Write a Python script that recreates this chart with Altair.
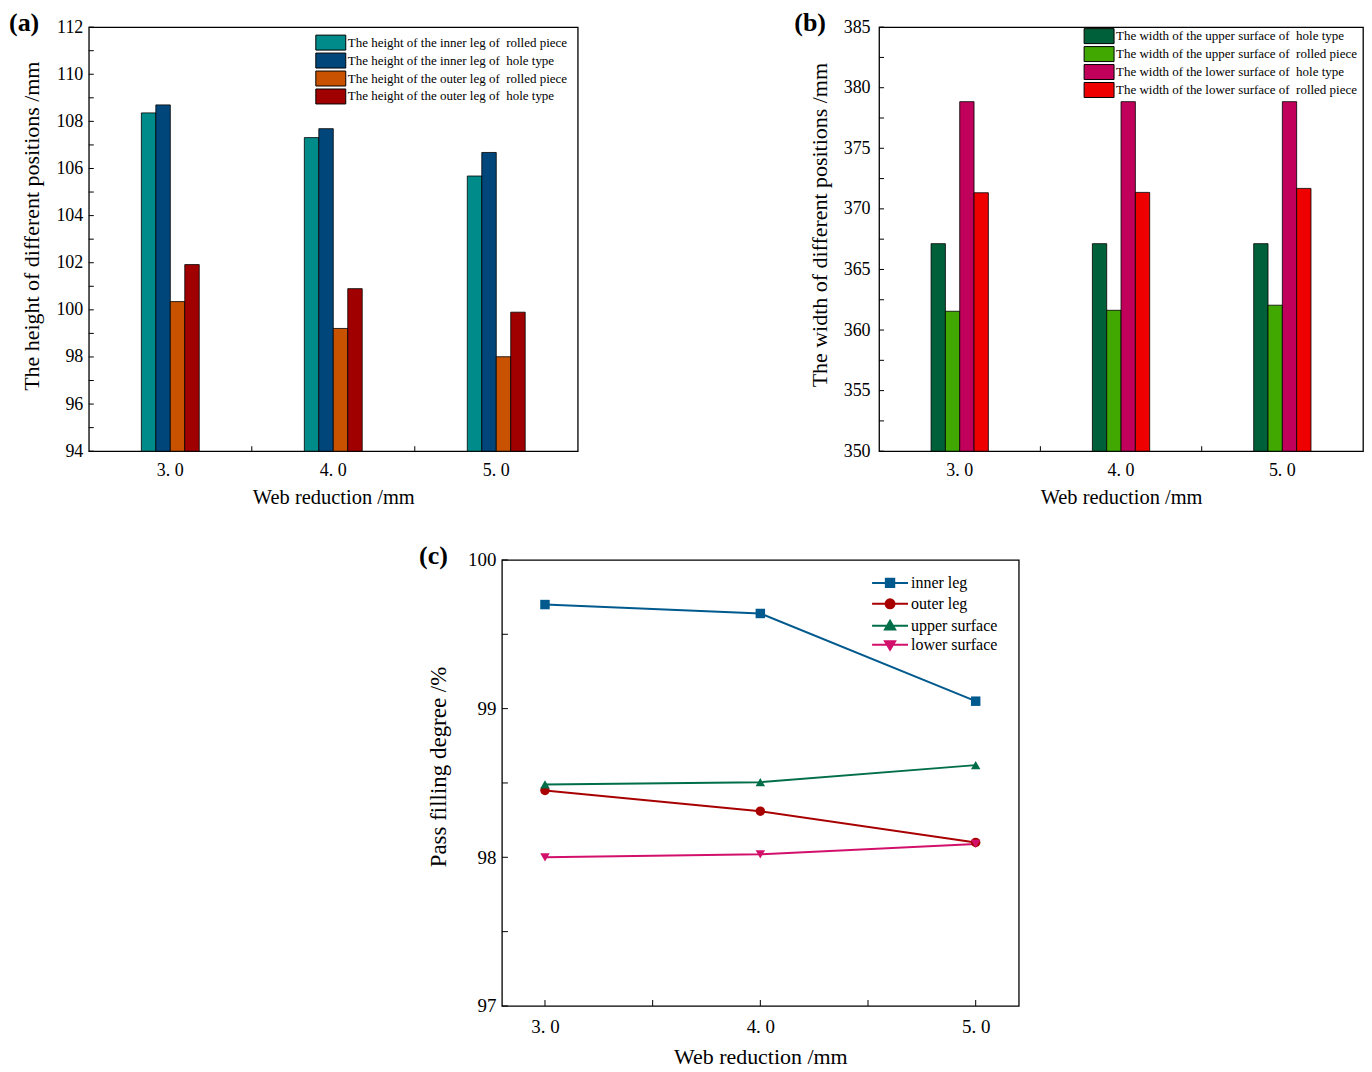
import altair as alt
import pandas as pd

FONT = "Liberation Serif"
NB = "\u00a0"
X_CATS = ["3.0", "4.0", "5.0"]
X_BOUNDS = [1, 2]          # boundaries between the three groups (group index units)

# ---------------- panel (a) ----------------
A_SERIES = [
    "The height of the inner leg of" + NB + NB + "rolled piece",
    "The height of the inner leg of" + NB + NB + "hole type",
    "The height of the outer leg of" + NB + NB + "rolled piece",
    "The height of the outer leg of" + NB + NB + "hole type",
]
A_COLORS = ["#008B8B", "#00467A", "#C85200", "#A00000"]
A_INNER_ROLLED = [108.36, 107.31, 105.68]
A_INNER_HOLE = [108.70, 107.69, 106.68]
A_OUTER_ROLLED = [100.35, 99.21, 98.01]
A_OUTER_HOLE = [101.92, 100.90, 99.90]
A_Y_DOMAIN = [94, 112]
A_Y_LABELS = [94, 96, 98, 100, 102, 104, 106, 108, 110, 112]
A_Y_TICKS = [94, 95, 96, 97, 98, 99, 100, 101, 102, 103, 104, 105, 106, 107, 108, 109, 110, 111, 112]
A_Y_TITLE = "The height of different positions /mm"

# ---------------- panel (b) ----------------
B_SERIES = [
    "The width of the upper surface of" + NB + NB + "hole type",
    "The width of the upper surface of" + NB + NB + "rolled piece",
    "The width of the lower surface of" + NB + NB + "hole type",
    "The width of the lower surface of" + NB + NB + "rolled piece",
]
B_COLORS = ["#00603A", "#40A800", "#C0005A", "#EE0000"]
B_UPPER_HOLE = [367.13, 367.13, 367.13]
B_UPPER_ROLLED = [361.55, 361.63, 362.05]
B_LOWER_HOLE = [378.85, 378.85, 378.85]
B_LOWER_ROLLED = [371.33, 371.36, 371.69]
B_Y_DOMAIN = [350, 385]
B_Y_LABELS = [350, 355, 360, 365, 370, 375, 380, 385]
B_Y_TICKS = [350, 352.5, 355, 357.5, 360, 362.5, 365, 367.5, 370, 372.5, 375, 377.5, 380, 382.5, 385]
B_Y_TITLE = "The width of different positions /mm"

# ---------------- panel (c) ----------------
C_X = [3.0, 4.0, 5.0]
C_SERIES = ["inner leg", "outer leg", "upper surface", "lower surface"]
C_COLORS = ["#005A8E", "#A80000", "#006E48", "#D2106C"]
C_INNER = [99.70, 99.64, 99.05]
C_OUTER = [98.45, 98.31, 98.10]
C_UPPER = [98.49, 98.505, 98.62]
C_LOWER = [98.00, 98.02, 98.09]
C_X_DOMAIN = [2.8, 5.2]
C_X_LABELS = [3, 4, 5]
C_X_TICKS = [3.0, 3.5, 4.0, 4.5, 5.0]
C_Y_DOMAIN = [97, 100]
C_Y_LABELS = [97, 98, 99, 100]
C_Y_TICKS = [97.0, 97.5, 98.0, 98.5, 99.0, 99.5, 100.0]
C_SHAPES = ["square", "circle", "triangle-up", "triangle-down"]
C_LEGEND_SHAPES = [
    "M-3,0L3,0M-0.7,-0.7L0.7,-0.7L0.7,0.7L-0.7,0.7Z",
    "M-3,0L3,0M0.75,0A0.75,0.75,0,1,1,-0.75,0A0.75,0.75,0,1,1,0.75,0Z",
    "M-3,0L3,0M0,-0.85L0.85,0.6L-0.85,0.6Z",
    "M-3,0L3,0M0,0.85L0.85,-0.6L-0.85,-0.6Z",
]

LABEL_EXPR = "replace(datum.label, '.', '. ')"
RECT_PATH = "M-2,-1L2,-1L2,1L-2,1Z"
GROUP_FILL = 58.0 / 163.3   # share of each group occupied by its four bars


def tag_layer(tag, dx):
    return alt.Chart(pd.DataFrame({"tag": [tag]})).mark_text(
        font=FONT, fontSize=26, fontWeight="bold", align="left",
        baseline="alphabetic", color="black"
    ).encode(text="tag:N", x=alt.value(dx), y=alt.value(4))


def bar_panel(tag, tag_dx, field, series, colors, values, y_domain, y_labels, y_ticks,
              y_title, width, height, legend_x, legend_y, label_pad, row_pad, title_y):
    rows = []
    for s, vals in zip(series, values):
        for c, v in zip(X_CATS, vals):
            rows.append({"cat": c, field: s, "value": v})
    df = pd.DataFrame(rows)
    p_in = 1 - GROUP_FILL

    yscale = alt.Scale(domain=y_domain, nice=False, zero=False)
    yt = alt.Chart(pd.DataFrame({"value": y_ticks})).mark_rule(color="black", strokeWidth=1).encode(
        y=alt.Y("value:Q", scale=yscale,
                axis=alt.Axis(title=y_title, values=y_labels, format="d", ticks=False,
                              domain=False, grid=False, labelPadding=label_pad,
                              titlePadding=12, labelFontSize=18, titleFontSize=22,
                              titleY=title_y,
                              labelFont=FONT, titleFont=FONT, labelColor="black",
                              titleColor="black", titleFontWeight="normal")),
        x=alt.value(0), x2=alt.value(5),
    )
    bars = alt.Chart(df).mark_bar(stroke="black", strokeWidth=0.8).encode(
        x=alt.X("cat:N", sort=X_CATS,
                scale=alt.Scale(domain=X_CATS, paddingInner=p_in, paddingOuter=p_in / 2),
                axis=alt.Axis(title="Web reduction /mm", labelExpr=LABEL_EXPR, labelAngle=0,
                              ticks=False, domain=False, grid=False, labelPadding=10,
                              titlePadding=8, labelFontSize=18, titleFontSize=20.5,
                              labelFont=FONT, titleFont=FONT, labelColor="black",
                              titleColor="black", titleFontWeight="normal")),
        xOffset=alt.XOffset(f"{field}:N", sort=series,
                            scale=alt.Scale(domain=series, paddingInner=0, paddingOuter=0)),
        y=alt.Y("value:Q", scale=yscale),
        y2=alt.datum(y_domain[0]),
        color=alt.Color(f"{field}:N", sort=series,
                        scale=alt.Scale(domain=series, range=colors),
                        legend=alt.Legend(orient="none", legendX=legend_x, legendY=legend_y,
                                          title=None, symbolType=RECT_PATH, symbolSize=225,
                                          symbolStrokeColor="black", symbolStrokeWidth=1,
                                          symbolOpacity=1, labelFont=FONT, labelFontSize=13,
                                          labelColor="black", labelLimit=400, labelOffset=9,
                                          rowPadding=row_pad, padding=0)),
    )
    xt = alt.Chart(pd.DataFrame({"b": X_BOUNDS})).mark_rule(color="black", strokeWidth=1).encode(
        x=alt.X("b:Q", scale=alt.Scale(domain=[0, len(X_CATS)], nice=False, zero=False), axis=None),
        y=alt.value(height), y2=alt.value(height - 5),
    )
    return alt.layer(yt, bars, xt, tag_layer(tag, tag_dx)).resolve_scale(
        x="independent"
    ).properties(width=width, height=height)


panel_a = bar_panel("(a)", -80, "sa", A_SERIES, A_COLORS,
                    [A_INNER_ROLLED, A_INNER_HOLE, A_OUTER_ROLLED, A_OUTER_HOLE],
                    A_Y_DOMAIN, A_Y_LABELS, A_Y_TICKS, A_Y_TITLE, 490, 425,
                    234.5, 7.5, 6, -2.8, 199)
panel_b = bar_panel("(b)", -85, "sb", B_SERIES, B_COLORS,
                    [B_UPPER_HOLE, B_UPPER_ROLLED, B_LOWER_HOLE, B_LOWER_ROLLED],
                    B_Y_DOMAIN, B_Y_LABELS, B_Y_TICKS, B_Y_TITLE, 485, 425,
                    212.5, 1, 9, -2.5, 198)

# ---- panel (c) ----
rows = []
for s, vals in zip(C_SERIES, [C_INNER, C_OUTER, C_UPPER, C_LOWER]):
    for x, v in zip(C_X, vals):
        rows.append({"x": x, "sc": s, "value": v})
dfc = pd.DataFrame(rows)
CW, CH = 518, 447
cx = alt.Scale(domain=C_X_DOMAIN, nice=False, zero=False)
cy = alt.Scale(domain=C_Y_DOMAIN, nice=False, zero=False)
ccolor = alt.Scale(domain=C_SERIES, range=C_COLORS)


def c_legend():
    return alt.Legend(orient="none", legendX=381, legendY=15, title=None,
                      symbolSize=144, symbolStrokeWidth=2, symbolOpacity=1,
                      labelFont=FONT, labelFontSize=16, labelColor="black",
                      labelOffset=13, rowPadding=3, padding=0, labelLimit=300)


c_leg = alt.Chart(dfc).mark_point(filled=True, size=0).encode(
    x=alt.X("x:Q", scale=cx),
    y=alt.Y("value:Q", scale=cy),
    color=alt.Color("sc:N", sort=C_SERIES, scale=ccolor, legend=c_legend()),
    stroke=alt.Stroke("sc:N", sort=C_SERIES, scale=ccolor, legend=c_legend()),
    shape=alt.Shape("sc:N", sort=C_SERIES,
                    scale=alt.Scale(domain=C_SERIES, range=C_LEGEND_SHAPES),
                    legend=c_legend()),
)
c_lines = alt.Chart(dfc).mark_line(strokeWidth=2).encode(
    x=alt.X("x:Q", scale=cx,
            axis=alt.Axis(title="Web reduction /mm", values=C_X_LABELS,
                          labelExpr="replace(format(datum.value, '.1f'), '.', '. ')",
                          ticks=False, domain=False, grid=False, labelPadding=12, titlePadding=10,
                          labelFontSize=19, titleFontSize=22, labelFont=FONT, titleFont=FONT,
                          labelColor="black", titleColor="black", titleFontWeight="normal")),
    y=alt.Y("value:Q", scale=cy,
            axis=alt.Axis(title="Pass filling degree /%", values=C_Y_LABELS, format="d",
                          ticks=False, domain=False, grid=False, labelPadding=6, titlePadding=17,
                          titleY=207,
                          labelFontSize=19, titleFontSize=23, labelFont=FONT, titleFont=FONT,
                          labelColor="black", titleColor="black", titleFontWeight="normal")),
    color=alt.Color("sc:N", sort=C_SERIES, scale=ccolor, legend=c_legend()),
)
c_point_layers = [
    alt.Chart(dfc).transform_filter(alt.datum.sc == s).mark_point(
        filled=True, size=90, opacity=1, shape=shp
    ).encode(
        x=alt.X("x:Q", scale=cx),
        y=alt.Y("value:Q", scale=cy),
        color=alt.Color("sc:N", sort=C_SERIES, scale=ccolor, legend=c_legend()),
    )
    for s, shp in zip(C_SERIES, C_SHAPES)
]
c_yt = alt.Chart(pd.DataFrame({"value": C_Y_TICKS})).mark_rule(color="black", strokeWidth=1).encode(
    y=alt.Y("value:Q", scale=cy), x=alt.value(0), x2=alt.value(6),
)
c_xt = alt.Chart(pd.DataFrame({"x": C_X_TICKS})).mark_rule(color="black", strokeWidth=1).encode(
    x=alt.X("x:Q", scale=cx), y=alt.value(CH), y2=alt.value(CH - 6),
)
panel_c = alt.layer(c_leg, c_lines, *c_point_layers, c_yt, c_xt, tag_layer("(c)", -83)).properties(
    width=CW, height=CH,
)

spacer = alt.Chart(pd.DataFrame({"v": [0]})).mark_point(opacity=0).properties(
    width=329, height=10, view=alt.ViewBackground(stroke="transparent")
)

RES = dict(color="independent", stroke="independent", shape="independent", xOffset="independent")
LRES = dict(color="independent", stroke="independent", shape="independent")
top = alt.hconcat(panel_a, panel_b, spacing=215).resolve_scale(**RES).resolve_legend(**LRES)
bottom = alt.hconcat(spacer, panel_c, spacing=0).resolve_scale(**RES).resolve_legend(**LRES)
chart = alt.vconcat(top, bottom, spacing=33).resolve_scale(**RES).resolve_legend(**LRES).properties(
    padding=0, background="white"
).configure_view(stroke="black", strokeWidth=1.3)

chart.save("out.html", embed_options={"renderer": "svg", "actions": False})
